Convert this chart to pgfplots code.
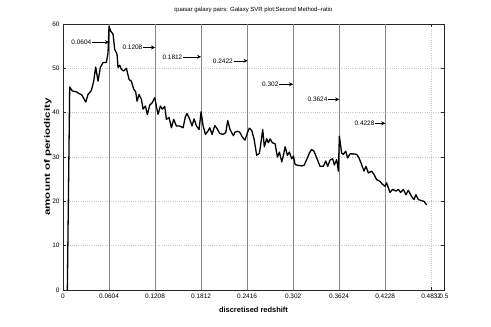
\documentclass[border=0pt]{standalone}
\usepackage{pgfplots}
\pgfplotsset{compat=1.18}
\usepackage{fontspec}
\setmainfont{Liberation Sans}
\usepackage{graphicx}
\usetikzlibrary{arrows.meta}
\definecolor{redline}{rgb}{0.93,0.35,0.35}
\begin{document}
\begin{tikzpicture}
\begin{axis}[
  at={(0,0)}, anchor=south west,
  scale only axis, width=381bp, height=266bp,
  xmin=0, xmax=0.5, ymin=0, ymax=60,
  xtick={0,0.0604,0.1208,0.1812,0.2416,0.302,0.3624,0.4228,0.4832,0.5},
  xticklabels={0,0.0604,0.1208,0.1812,0.2416,0.302,0.3624,0.4228,0.4832,0.5},
  ytick={0,10,...,60},
  grid=major, major grid style={gray!45, line width=0.4pt, dash pattern=on 0.6pt off 1.6pt},
  axis line style={line width=0.6pt, black!85},
  tick style={black!85, line width=0.5pt},
  major tick length=3bp,
  tick label style={font=\fontsize{6.5}{7}\selectfont},
  /pgf/number format/assume math mode=true,
  title={quasar galaxy pairs: Galaxy SVR plot:Second Method--ratio},
  title style={font=\fontsize{6}{7}\selectfont, at={(axis description cs:0.5,1.032)}, anchor=center},
  xlabel={discretised redshift},
  xlabel style={font=\fontsize{7.5}{8}\selectfont\bfseries, at={(axis description cs:0.5,-0.074)}, anchor=center},
  ylabel={\scalebox{1.45}[1]{amount of periodicity}},
  ylabel style={font=\fontsize{8}{9}\selectfont\bfseries, at={(axis description cs:-0.04,0.5)}, anchor=center},
]
\addplot[color=redline, line width=0.7pt, forget plot] coordinates {(0.0604,0) (0.0604,60)};
\addplot[color=redline, line width=0.7pt, forget plot] coordinates {(0.1208,0) (0.1208,60)};
\addplot[color=redline, line width=0.7pt, forget plot] coordinates {(0.1812,0) (0.1812,60)};
\addplot[color=redline, line width=0.7pt, forget plot] coordinates {(0.2422,0) (0.2422,60)};
\addplot[color=redline, line width=0.7pt, forget plot] coordinates {(0.302,0) (0.302,60)};
\addplot[color=redline, line width=0.7pt, forget plot] coordinates {(0.3624,0) (0.3624,60)};
\addplot[color=redline, line width=0.7pt, forget plot] coordinates {(0.4228,0) (0.4228,60)};
\addplot[black, line width=1.3pt, line join=round] coordinates {
(0.0057,0) (0.0088,45.8) (0.0123,44.9) (0.0175,44.7) (0.0210,44.3) (0.0241,44.1) (0.0270,43.3) (0.0300,42.4) (0.0328,44.1) (0.0372,45.0) (0.0403,47.1) (0.0429,50.3) (0.0460,47.1) (0.0490,50.2) (0.0525,51.3) (0.0569,51.3) (0.0591,53.5) (0.0604,59.5) (0.0626,58.4) (0.0657,57.7) (0.0678,54.3) (0.0709,53.2) (0.0722,50.2) (0.0744,50.7) (0.0766,49.8) (0.0797,49.4) (0.0832,50.0) (0.0867,47.5) (0.0897,47.1) (0.0928,45.3) (0.0954,44.7) (0.0972,42.6) (0.0998,44.1) (0.1029,43.0) (0.1051,40.8) (0.1081,41.5) (0.1107,39.6) (0.1138,41.7) (0.1173,42.3) (0.1204,43.4) (0.1226,41.4) (0.1247,39.6) (0.1278,41.5) (0.1304,40.8) (0.1335,41.4) (0.1357,38.5) (0.1392,38.9) (0.1423,36.6) (0.1453,38.5) (0.1488,37.0) (0.1532,37.0) (0.1576,36.6) (0.1606,39.1) (0.1628,39.8) (0.1663,38.5) (0.1694,37.0) (0.1720,38.6) (0.1751,37.0) (0.1786,36.2) (0.1812,40.2) (0.1838,37.1) (0.1869,35.1) (0.1904,35.9) (0.1926,36.6) (0.1957,35.1) (0.1992,37.1) (0.2022,36.4) (0.2057,35.3) (0.2101,35.1) (0.2136,35.5) (0.2162,38.2) (0.2192,36.2) (0.2236,34.8) (0.2257,35.6) (0.2292,35.8) (0.2320,35.6) (0.2353,34.5) (0.2388,33.8) (0.2423,35.6) (0.2445,36.5) (0.2476,36.0) (0.2507,34.1) (0.2542,30.4) (0.2577,30.8) (0.2599,33.4) (0.2621,36.2) (0.2642,32.3) (0.2673,34.1) (0.2695,33.2) (0.2717,34.1) (0.2748,33.2) (0.2783,33.0) (0.2814,30.0) (0.2840,31.1) (0.2871,28.9) (0.2893,30.4) (0.2915,32.3) (0.2945,30.4) (0.2971,31.1) (0.3002,29.6) (0.3024,30.2) (0.3046,28.3) (0.3090,28.1) (0.3133,28.0) (0.3163,28.1) (0.3198,29.4) (0.3233,30.9) (0.3263,31.7) (0.3294,31.3) (0.3329,29.8) (0.3373,27.9) (0.3417,27.9) (0.3448,29.1) (0.3474,27.9) (0.3504,29.3) (0.3539,29.6) (0.3561,28.2) (0.3592,29.4) (0.3614,26.8) (0.3627,34.7) (0.3657,30.9) (0.3679,30.6) (0.3710,31.3) (0.3736,29.8) (0.3766,30.7) (0.3810,30.7) (0.3854,30.6) (0.3884,29.8) (0.3919,28.3) (0.3950,26.8) (0.3976,27.9) (0.4007,26.4) (0.4051,26.8) (0.4081,26.1) (0.4116,24.9) (0.4160,24.5) (0.4195,23.8) (0.4226,23.4) (0.4247,24.2) (0.4291,22.0) (0.4326,22.7) (0.4370,22.3) (0.4401,22.7) (0.4431,22.0) (0.4466,22.7) (0.4501,21.5) (0.4532,22.5) (0.4575,21.1) (0.4606,20.4) (0.4632,21.5) (0.4663,20.4) (0.4698,20.2) (0.4737,20.0) (0.4772,19.2)
};
\begin{scope}[every node/.style={font=\fontsize{6.5}{7}\selectfont, inner sep=0.5pt, anchor=east}]
\draw[-{Stealth[length=4bp,width=4bp]}, line width=0.5pt] (axis cs:0.0381,55.9) node{0.0604} -- (axis cs:0.0604,55.9);
\draw[-{Stealth[length=4bp,width=4bp]}, line width=0.5pt] (axis cs:0.1051,54.7) node{0.1208} -- (axis cs:0.1208,54.7);
\draw[-{Stealth[length=4bp,width=4bp]}, line width=0.5pt] (axis cs:0.1576,52.6) node{0.1812} -- (axis cs:0.1812,52.6);
\draw[-{Stealth[length=4bp,width=4bp]}, line width=0.5pt] (axis cs:0.2238,51.7) node{0.2422} -- (axis cs:0.2422,51.7);
\draw[-{Stealth[length=4bp,width=4bp]}, line width=0.5pt] (axis cs:0.2836,46.4) node{0.302} -- (axis cs:0.302,46.4);
\draw[-{Stealth[length=4bp,width=4bp]}, line width=0.5pt] (axis cs:0.3480,43.0) node{0.3624} -- (axis cs:0.3624,43.0);
\draw[-{Stealth[length=4bp,width=4bp]}, line width=0.5pt] (axis cs:0.4097,37.6) node{0.4228} -- (axis cs:0.4228,37.6);
\end{scope}
\end{axis}
\pgfresetboundingbox
\path[use as bounding box] (-63bp,-37bp) rectangle (428bp,290bp);
\end{tikzpicture}
\end{document}
